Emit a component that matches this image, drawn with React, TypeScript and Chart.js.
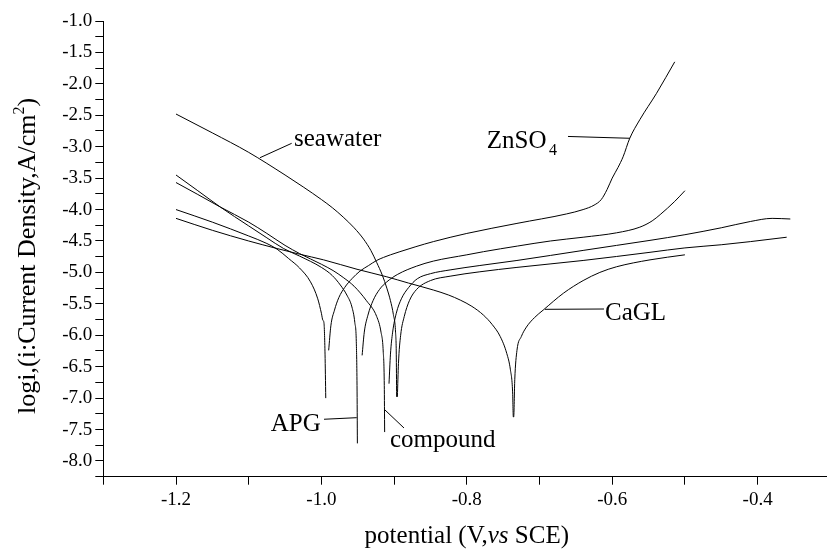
import React, { useEffect, useRef } from 'react';
import { Chart, registerables } from 'chart.js';

Chart.register(...registerables);

// ---------- data (potential V vs SCE, log i) ----------
const seawaterCathE = [-1.2, -1.15, -1.1, -1.05, -1.025, -1.0, -0.985, -0.97, -0.955, -0.942, -0.932, -0.924, -0.916, -0.91, -0.905, -0.901, -0.898, -0.897, -0.8965];
const seawaterCathI = [-2.48, -2.78, -3.09, -3.45, -3.64, -3.84, -3.97, -4.12, -4.29, -4.47, -4.65, -4.84, -5.05, -5.25, -5.45, -5.67, -5.95, -6.3, -6.98];
const seawaterAnoE = [-0.8955, -0.894, -0.891, -0.886, -0.879, -0.869, -0.85, -0.823, -0.782, -0.731, -0.64, -0.548, -0.5, -0.45, -0.41, -0.36];
const seawaterAnoI = [-6.98, -6.45, -6.0, -5.7, -5.45, -5.27, -5.13, -5.06, -4.99, -4.92, -4.81, -4.68, -4.61, -4.56, -4.51, -4.44];

const apgCathE = [-1.2, -1.17, -1.139, -1.1, -1.075, -1.052, -1.03, -1.0, -0.985, -0.974, -0.965, -0.958, -0.954, -0.952, -0.951, -0.9505];
const apgCathI = [-3.45, -3.7, -3.96, -4.26, -4.45, -4.62, -4.74, -4.92, -5.05, -5.2, -5.36, -5.55, -5.8, -6.1, -6.8, -7.72];
const apgAnoE = [-0.944, -0.941, -0.936, -0.929, -0.92, -0.91, -0.895, -0.869, -0.846, -0.8, -0.777, -0.73, -0.685, -0.64, -0.594, -0.562, -0.545, -0.534, -0.514, -0.5];
const apgAnoI = [-6.32, -5.95, -5.68, -5.45, -5.27, -5.15, -5.03, -4.9, -4.82, -4.72, -4.67, -4.58, -4.5, -4.44, -4.37, -4.28, -4.18, -4.08, -3.87, -3.7];

const compoundCathE = [-1.2, -1.17, -1.139, -1.1, -1.075, -1.05, -1.03, -1.0, -0.984, -0.97, -0.955, -0.938, -0.924, -0.918, -0.915, -0.9135, -0.913];
const compoundCathI = [-3.57, -3.76, -3.96, -4.2, -4.38, -4.57, -4.7, -4.87, -4.97, -5.08, -5.22, -5.45, -5.7, -5.95, -6.25, -6.8, -7.54];
const compoundAnoE = [-0.907, -0.905, -0.902, -0.897, -0.89, -0.88, -0.868, -0.85, -0.823, -0.782, -0.731, -0.685, -0.64, -0.594, -0.548, -0.5, -0.45, -0.41, -0.38, -0.355];
const compoundAnoI = [-6.77, -6.3, -5.95, -5.65, -5.42, -5.24, -5.1, -5.02, -4.96, -4.89, -4.81, -4.73, -4.65, -4.57, -4.49, -4.4, -4.29, -4.19, -4.14, -4.15];

const znso4CathE = [-1.2, -1.15, -1.1, -1.075, -1.061, -1.045, -1.03, -1.015, -1.005, -1.0, -0.998, -0.9965, -0.995, -0.994];
const znso4CathI = [-4.0, -4.2, -4.42, -4.54, -4.63, -4.78, -4.93, -5.15, -5.42, -5.65, -5.76, -5.8, -6.3, -7.0];
const znso4AnoE = [-0.99, -0.987, -0.982, -0.976, -0.968, -0.958, -0.947, -0.935, -0.924, -0.905, -0.892, -0.87, -0.846, -0.8, -0.731, -0.663, -0.64, -0.625, -0.615, -0.607, -0.6, -0.592, -0.585, -0.576, -0.562, -0.539, -0.514];
const znso4AnoI = [-6.24, -5.85, -5.6, -5.4, -5.24, -5.1, -4.98, -4.89, -4.81, -4.72, -4.67, -4.59, -4.51, -4.38, -4.22, -4.07, -4.0, -3.93, -3.84, -3.68, -3.5, -3.33, -3.16, -2.87, -2.57, -2.15, -1.65];

const caglE = [-1.2, -1.15, -1.1, -1.061, -1.03, -0.997, -0.951, -0.91, -0.88, -0.846, -0.825, -0.809, -0.793, -0.777, -0.765, -0.754, -0.745, -0.74, -0.737, -0.736, -0.7355, -0.734, -0.731, -0.725, -0.718, -0.707, -0.695, -0.667, -0.64, -0.617, -0.594, -0.548, -0.5];
const caglI = [-4.14, -4.33, -4.5, -4.62, -4.71, -4.8, -4.95, -5.07, -5.17, -5.28, -5.36, -5.44, -5.54, -5.68, -5.83, -6.02, -6.29, -6.55, -6.9, -7.3, -7.3, -6.7, -6.24, -6.02, -5.87, -5.72, -5.6, -5.33, -5.13, -5.0, -4.91, -4.8, -4.72];

// axis ticks
const xMin = -1.3, xMax = -0.3, xStep = 0.1;
const yMin = -8.25, yMax = -1.0, yStep = 0.25;

// annotations (data coordinates)
const labelNames = ['seawater', 'APG', 'compound', 'CaGL'];
const labelX = [-1.0377, -1.0697, -0.9057, -0.6099];
const labelY = [-2.989, -7.518, -7.777, -5.757];
const pointerFrom = [[-1.0845, -3.175], [-0.9964, -7.336], [-0.9126, -7.188], [-0.6925, -5.587], [-0.6608, -2.837]];
const pointerTo = [[-1.0409, -2.946], [-0.9514, -7.311], [-0.8864, -7.475], [-0.6113, -5.582], [-0.5755, -2.866]];
const znLabelX = -0.7726, znLabelY = -3.025, znSubX = -0.6869, znSubY = -3.13;

const FONT = '"Liberation Serif", "Times New Roman", serif';

function pts(e: number[], v: number[]) {
  return e.map((x, i) => ({ x, y: v[i] }));
}
function joined(ce: number[], ci: number[], ae: number[], ai: number[]) {
  const gapX = (ce[ce.length - 1] + ae[0]) / 2;
  return [...pts(ce, ci), { x: gapX, y: null as any }, ...pts(ae, ai)];
}

const annotPlugin = {
  id: 'annot',
  afterDraw(chart: any) {
    const { ctx, scales } = chart;
    const xs = scales.x, ys = scales.y;
    const px = (v: number) => xs.getPixelForValue(v);
    const py = (v: number) => ys.getPixelForValue(v);
    ctx.save();
    ctx.strokeStyle = '#000';
    ctx.fillStyle = '#000';
    ctx.lineWidth = 1;
    pointerFrom.forEach((f, i) => {
      const t = pointerTo[i];
      ctx.beginPath();
      ctx.moveTo(px(f[0]), py(f[1]));
      ctx.lineTo(px(t[0]), py(t[1]));
      ctx.stroke();
    });
    ctx.textAlign = 'left';
    ctx.textBaseline = 'alphabetic';
    ctx.font = '25px ' + FONT;
    labelNames.forEach((n, i) => ctx.fillText(n, px(labelX[i]), py(labelY[i])));
    ctx.fillText('ZnSO', px(znLabelX), py(znLabelY));
    ctx.font = '16px ' + FONT;
    ctx.fillText('4', px(znSubX), py(znSubY));

    // x title
    const area = chart.chartArea;
    const cx = (area.left + area.right) / 2;
    const p1 = 'potential (V,', p2 = 'vs', p3 = ' SCE)';
    ctx.font = '25px ' + FONT;
    const w1 = ctx.measureText(p1).width, w3 = ctx.measureText(p3).width;
    ctx.font = 'italic 25px ' + FONT;
    const w2 = ctx.measureText(p2).width;
    const sx = cx - (w1 + w2 + w3) / 2;
    const by = 543;
    ctx.font = '25px ' + FONT;
    ctx.fillText(p1, sx, by);
    ctx.font = 'italic 25px ' + FONT;
    ctx.fillText(p2, sx + w1, by);
    ctx.font = '25px ' + FONT;
    ctx.fillText(p3, sx + w1 + w2, by);

    // y title
    const q1 = 'logi,(i:Current Density,A/cm', q2 = '2', q3 = ')';
    ctx.font = '26px ' + FONT;
    const v1 = ctx.measureText(q1).width, v3 = ctx.measureText(q3).width;
    ctx.font = '16px ' + FONT;
    const v2 = ctx.measureText(q2).width;
    ctx.translate(35, (area.top + area.bottom) / 2 + 7);
    ctx.rotate(-Math.PI / 2);
    const tx = -(v1 + v2 + v3) / 2;
    ctx.font = '26px ' + FONT;
    ctx.fillText(q1, tx, 0);
    ctx.font = '16px ' + FONT;
    ctx.fillText(q2, tx + v1, -11);
    ctx.font = '26px ' + FONT;
    ctx.fillText(q3, tx + v1 + v2, 0);
    ctx.restore();
  },
};

export default function App() {
  const ref = useRef<HTMLCanvasElement>(null);
  useEffect(() => {
    const canvas = ref.current!;
    const mk = (label: string, data: any[]) => ({
      label,
      data,
      borderColor: '#000',
      backgroundColor: '#000',
      borderWidth: 1,
      pointRadius: 0,
      tension: 0,
      cubicInterpolationMode: 'monotone' as const,
      spanGaps: false,
      fill: false,
    });
    const chart = new Chart(canvas, {
      type: 'line',
      data: {
        datasets: [
          mk('seawater', joined(seawaterCathE, seawaterCathI, seawaterAnoE, seawaterAnoI)),
          mk('APG', joined(apgCathE, apgCathI, apgAnoE, apgAnoI)),
          mk('compound', joined(compoundCathE, compoundCathI, compoundAnoE, compoundAnoI)),
          mk('ZnSO4', joined(znso4CathE, znso4CathI, znso4AnoE, znso4AnoI)),
          mk('CaGL', pts(caglE, caglI)),
        ],
      },
      options: {
        responsive: false,
        animation: false,
        events: [],
        layout: { padding: { top: 21, right: 840 - 830.3, left: 0, bottom: 0 } },
        plugins: { legend: { display: false }, tooltip: { enabled: false } },
        scales: {
          x: {
            type: 'linear',
            min: xMin,
            max: xMax,
            afterFit: (s: any) => { s.height = 549 - 476.7; },
            border: { display: true, color: '#000', width: 1 },
            grid: { display: true, drawOnChartArea: false, drawTicks: true, tickLength: 8, color: '#000' },
            ticks: {
              stepSize: xStep,
              autoSkip: false,
              maxRotation: 0,
              padding: 4,
              color: '#000',
              font: { family: FONT, size: 19 },
              callback: (v: any) => {
                const r = Math.round(Number(v) * 100) / 100;
                return Math.abs(r * 5 - Math.round(r * 5)) < 1e-6 ? r.toFixed(1) : '';
              },
            },
          },
          y: {
            type: 'linear',
            min: yMin,
            max: yMax,
            afterFit: (s: any) => { s.width = 103.3; },
            border: { display: true, color: '#000', width: 1 },
            grid: { display: true, drawOnChartArea: false, drawTicks: true, tickLength: 8, color: '#000' },
            ticks: {
              stepSize: yStep,
              autoSkip: false,
              padding: 3,
              color: '#000',
              font: { family: FONT, size: 19 },
              callback: (v: any) => {
                const r = Math.round(Number(v) * 100) / 100;
                return Math.abs(r * 2 - Math.round(r * 2)) < 1e-6 ? r.toFixed(1) : '';
              },
            },
          },
        },
      },
      plugins: [annotPlugin],
    });
    return () => chart.destroy();
  }, []);
  return (
    <div style={{ position: 'fixed', left: 0, top: 0, width: 827, height: 549, overflow: 'hidden', background: '#fff' }}>
      <canvas ref={ref} width={840} height={549} style={{ display: 'block', width: 840, height: 549 }} />
    </div>
  );
}
